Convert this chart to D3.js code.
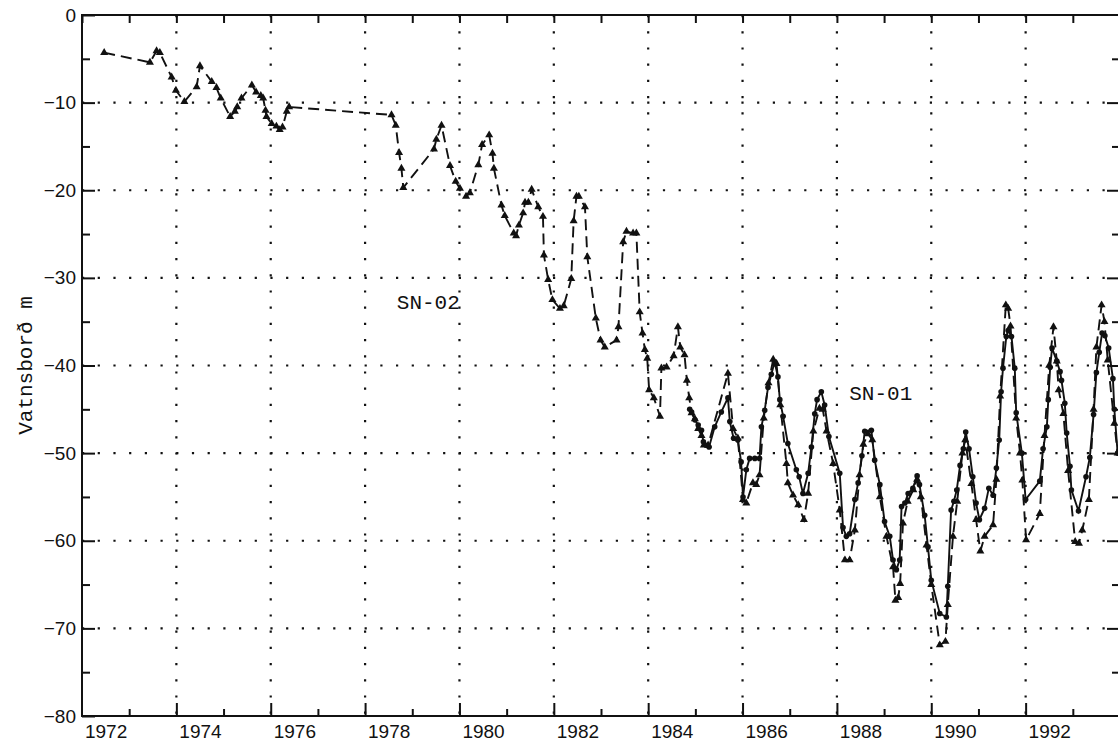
<!DOCTYPE html>
<html>
<head>
<meta charset="utf-8">
<script src="https://cdn.jsdelivr.net/npm/d3@7/dist/d3.min.js"></script>
<style>
  body { margin: 0; background: #fff; }
  svg { display: block; }
</style>
</head>
<body>
<div id="chart"></div>
<script>
// SN-02 (dashed line, triangles) - year and water level in m
var sn02Years = [1972.47,1973.44,1973.58,1973.65,1973.90,1973.99,1974.17,1974.43,1974.50,1974.75,
    1974.85,1974.94,1975.14,1975.24,1975.29,1975.38,1975.60,1975.69,1975.79,1975.84,
    1975.89,1975.91,1976.02,1976.12,1976.19,1976.25,1976.34,1976.39,1978.56,1978.65,
    1978.72,1978.77,1978.81,1979.46,1979.51,1979.62,1979.80,1979.92,1980.01,1980.14,
    1980.22,1980.40,1980.48,1980.63,1980.70,1980.73,1980.89,1980.96,1981.15,1981.20,
    1981.26,1981.35,1981.39,1981.46,1981.53,1981.67,1981.77,1981.79,1981.88,1981.97,
    1982.13,1982.21,1982.37,1982.42,1982.48,1982.53,1982.66,1982.71,1982.89,1982.99,
    1983.08,1983.33,1983.37,1983.47,1983.54,1983.68,1983.75,1983.82,1983.88,1983.93,
    1983.98,1984.02,1984.12,1984.25,1984.28,1984.39,1984.54,1984.63,1984.68,1984.77,
    1984.82,1984.87,1984.92,1984.99,1985.06,1985.13,1985.18,1985.27,1985.69,1985.80,
    1985.90,1986.01,1986.08,1986.22,1986.29,1986.36,1986.45,1986.55,1986.65,1986.72,
    1986.80,1986.93,1986.96,1987.07,1987.18,1987.30,1987.39,1987.50,1987.63,1987.70,
    1987.78,1987.92,1988.06,1988.17,1988.27,1988.38,1988.48,1988.56,1988.66,1988.75,
    1988.91,1989.05,1989.19,1989.24,1989.30,1989.34,1989.40,1989.50,1989.62,1989.70,
    1989.78,1989.90,1990.00,1990.18,1990.30,1990.35,1990.46,1990.55,1990.66,1990.72,
    1990.85,1990.95,1991.04,1991.13,1991.31,1991.38,1991.46,1991.58,1991.63,1991.68,
    1991.80,1991.88,1991.93,1992.01,1992.30,1992.40,1992.50,1992.59,1992.66,1992.70,
    1992.80,1992.90,1993.05,1993.13,1993.20,1993.34,1993.44,1993.50,1993.61,1993.67,
    1993.74,1993.88,1993.95];
var sn02Levels = [-4.3,-5.4,-4.1,-4.3,-7.1,-8.6,-9.9,-8.2,-5.8,-7.6,
    -8.3,-9.5,-11.6,-11.0,-10.5,-9.5,-8.0,-8.8,-9.2,-9.5,
    -10.9,-11.6,-12.4,-12.7,-13.1,-12.8,-11.0,-10.5,-11.4,-12.6,
    -15.7,-17.5,-19.7,-15.3,-14.2,-12.6,-17.2,-19.0,-19.8,-20.7,
    -20.3,-17.1,-14.8,-13.7,-15.8,-17.5,-21.7,-22.9,-24.9,-25.2,
    -24.0,-22.6,-21.4,-21.4,-19.9,-21.9,-23.0,-27.4,-30.2,-32.5,
    -33.5,-33.2,-30.1,-23.5,-20.7,-20.7,-21.9,-27.6,-34.6,-37.1,
    -37.9,-37.1,-35.6,-25.9,-24.7,-24.9,-24.9,-33.9,-36.3,-38.2,
    -39.2,-42.8,-43.7,-45.8,-40.3,-40.2,-38.9,-35.6,-37.9,-38.8,
    -41.7,-43.7,-45.4,-46.1,-47.2,-48.0,-49.1,-49.1,-40.9,-47.2,
    -48.3,-55.3,-55.7,-53.4,-53.6,-52.5,-46.0,-42.0,-39.3,-39.8,
    -44.5,-51.2,-53.4,-54.8,-55.9,-57.6,-54.6,-47.5,-44.9,-45.0,
    -47.5,-51.2,-56.5,-62.2,-62.2,-58.8,-52.5,-49.0,-47.8,-48.5,
    -55.0,-59.5,-63.0,-66.8,-66.5,-64.9,-58.0,-55.5,-54.2,-53.0,
    -55.0,-60.5,-65.0,-71.9,-71.5,-67.3,-59.5,-55.5,-50.0,-48.5,
    -53.5,-57.6,-61.2,-59.5,-58.2,-53.0,-43.5,-33.1,-33.5,-35.5,
    -46.0,-50.0,-53.1,-59.9,-56.9,-48.0,-40.0,-35.6,-39.5,-42.8,
    -45.5,-52.0,-60.1,-60.3,-58.8,-55.3,-45.0,-37.9,-33.1,-35.0,
    -39.4,-46.6,-50.0];

// SN-01 (solid line, dots)
var sn01Years = [1984.88,1984.92,1984.99,1985.06,1985.13,1985.17,1985.23,1985.29,1985.41,1985.55,
    1985.69,1985.73,1985.81,1985.90,1985.97,1986.01,1986.08,1986.15,1986.26,1986.36,
    1986.40,1986.47,1986.54,1986.61,1986.68,1986.75,1986.79,1986.86,1986.96,1987.14,
    1987.20,1987.28,1987.39,1987.46,1987.53,1987.58,1987.67,1987.74,1987.83,1988.06,
    1988.13,1988.20,1988.27,1988.38,1988.45,1988.53,1988.59,1988.73,1988.80,1988.91,
    1989.01,1989.12,1989.19,1989.26,1989.33,1989.37,1989.44,1989.51,1989.61,1989.70,
    1989.75,1989.86,1989.93,1990.00,1990.18,1990.32,1990.35,1990.42,1990.48,1990.54,
    1990.61,1990.68,1990.73,1990.80,1990.88,1990.95,1991.02,1991.13,1991.22,1991.31,
    1991.38,1991.44,1991.48,1991.52,1991.59,1991.63,1991.70,1991.77,1991.80,1991.92,
    1992.00,1992.30,1992.37,1992.45,1992.48,1992.52,1992.56,1992.66,1992.73,1992.76,
    1992.83,1992.87,1992.94,1992.97,1993.12,1993.28,1993.36,1993.44,1993.50,1993.56,
    1993.62,1993.68,1993.76,1993.85,1993.88,1993.95];
var sn01Levels = [-45.0,-45.3,-46.2,-46.8,-47.4,-48.7,-49.1,-49.3,-47.0,-45.3,
    -43.7,-46.4,-48.3,-48.5,-51.0,-55.0,-51.9,-50.6,-50.6,-50.6,
    -47.0,-45.1,-42.5,-41.0,-39.6,-41.3,-43.9,-45.8,-48.9,-51.9,
    -52.7,-54.6,-52.3,-49.3,-45.5,-43.9,-43.0,-44.5,-48.1,-52.3,
    -58.5,-59.5,-59.2,-55.3,-53.4,-50.3,-47.5,-47.4,-50.8,-53.6,
    -57.8,-59.5,-62.2,-63.3,-62.2,-56.1,-55.7,-54.6,-54.0,-52.6,
    -53.6,-57.1,-60.7,-64.5,-68.3,-68.7,-65.2,-56.5,-55.5,-54.2,
    -51.4,-49.5,-47.6,-49.5,-52.7,-55.7,-57.6,-56.3,-54.0,-54.8,
    -51.7,-48.5,-43.0,-40.3,-36.7,-36.0,-36.7,-40.3,-45.4,-50.0,
    -55.3,-53.2,-49.5,-47.0,-43.9,-40.2,-38.0,-39.5,-40.7,-41.7,
    -44.3,-47.7,-51.5,-54.2,-56.6,-52.7,-50.5,-45.6,-40.8,-38.5,
    -36.3,-36.6,-38.0,-41.5,-45.0,-50.0];

// axis ticks and labels
var yearLabels = [1972,1974,1976,1978,1980,1982,1984,1986,1988,1990,1992];
var levelTicks = [0,-10,-20,-30,-40,-50,-60,-70,-80];

function init(){
    var w = 1118, h = 745;
    var left = 82, right = 1120, top = 15, bottom = 716;

    var xScale = d3.scaleLinear().domain([1972, 1994]).range([left, right]);
    var yScale = d3.scaleLinear().domain([-80, 0]).range([bottom, top]);

    var svg = d3.select("#chart").append("svg")
        .attr("width", w).attr("height", h)
        .style("background", "#fff");

    var ink = "#111";
    var allYears = d3.range(1972, 1995);
    var gridYears = yearLabels.slice(1);
    var gridLevels = levelTicks.slice(1, -1);
    var minorLevels = d3.range(-75, 0, 10);

    // dotted grid
    svg.append("g").selectAll("line").data(gridLevels).enter().append("line")
        .attr("x1", left).attr("x2", right)
        .attr("y1", function(d){ return yScale(d); })
        .attr("y2", function(d){ return yScale(d); })
        .attr("stroke", ink).attr("stroke-width", 2.2)
        .attr("stroke-dasharray", "2.2,13.5");
    svg.append("g").selectAll("line").data(gridYears).enter().append("line")
        .attr("x1", function(d){ return xScale(d); })
        .attr("x2", function(d){ return xScale(d); })
        .attr("y1", top).attr("y2", bottom)
        .attr("stroke", ink).attr("stroke-width", 2.2)
        .attr("stroke-dasharray", "2.2,14");

    // frame
    svg.append("rect")
        .attr("x", left).attr("y", top)
        .attr("width", right - left).attr("height", bottom - top)
        .attr("fill", "none").attr("stroke", ink).attr("stroke-width", 2);

    // inward ticks
    function ticks(g){
        g.select(".domain").remove();
        g.selectAll("line").attr("stroke", ink).attr("stroke-width", 2);
    }
    svg.append("g").attr("transform", "translate(0," + bottom + ")")
        .call(d3.axisBottom(xScale).tickValues(allYears.filter(function(d){ return d % 2; }))
            .tickSize(-7).tickFormat("")).call(ticks);
    svg.append("g").attr("transform", "translate(0," + bottom + ")")
        .call(d3.axisBottom(xScale).tickValues(gridYears).tickSize(-13).tickFormat("")).call(ticks);
    svg.append("g").attr("transform", "translate(0," + top + ")")
        .call(d3.axisTop(xScale).tickValues(allYears).tickSize(-8).tickFormat("")).call(ticks);
    svg.append("g").attr("transform", "translate(" + left + ",0)")
        .call(d3.axisLeft(yScale).tickValues(minorLevels).tickSize(-8).tickFormat("")).call(ticks);
    svg.append("g").attr("transform", "translate(" + right + ",0)")
        .call(d3.axisRight(yScale).tickValues(minorLevels).tickSize(-8).tickFormat("")).call(ticks);
    svg.append("g").attr("transform", "translate(" + right + ",0)")
        .call(d3.axisRight(yScale).tickValues(gridLevels).tickSize(-13).tickFormat("")).call(ticks);

    // y labels with major ticks
    svg.append("g").attr("transform", "translate(" + left + ",0)")
        .call(d3.axisLeft(yScale).tickValues(levelTicks).tickSize(-13).tickPadding(6))
        .call(ticks)
        .selectAll("text")
        .attr("font-family", "'Liberation Sans', Arial, sans-serif")
        .attr("font-size", 19).attr("fill", ink);

    // x labels, centred on each year
    svg.append("g").attr("transform", "translate(0," + bottom + ")")
        .call(d3.axisBottom(xScale).tickValues(yearLabels.map(function(d){ return d + 0.5; }))
            .tickSize(0).tickPadding(9).tickFormat(function(d){ return Math.floor(d); }))
        .call(ticks)
        .selectAll("text")
        .attr("font-family", "'Liberation Sans', Arial, sans-serif")
        .attr("font-size", 19).attr("fill", ink);

    // y axis title
    svg.append("text")
        .attr("transform", "translate(32," + ((top + bottom) / 2) + ") rotate(-90)")
        .attr("text-anchor", "middle")
        .attr("font-family", "'Liberation Mono', 'DejaVu Sans Mono', monospace")
        .attr("font-size", 21).attr("fill", ink)
        .text("Vatnsborð m");

    var line = d3.line()
        .x(function(d){ return xScale(d[0]); })
        .y(function(d){ return yScale(d[1]); });

    var sn02 = d3.zip(sn02Years, sn02Levels);
    var sn01 = d3.zip(sn01Years, sn01Levels);

    // SN-02 dashed
    svg.append("path").datum(sn02)
        .attr("d", line).attr("fill", "none")
        .attr("stroke", ink).attr("stroke-width", 1.9)
        .attr("stroke-dasharray", "11,6");
    svg.append("g").selectAll("path").data(sn02).enter().append("path")
        .attr("d", d3.symbol().type(d3.symbolTriangle).size(28))
        .attr("transform", function(d){ return "translate(" + xScale(d[0]) + "," + yScale(d[1]) + ")"; })
        .attr("fill", ink);

    // SN-01 solid
    svg.append("path").datum(sn01)
        .attr("d", line).attr("fill", "none")
        .attr("stroke", ink).attr("stroke-width", 1.9);
    svg.append("g").selectAll("circle").data(sn01).enter().append("circle")
        .attr("cx", function(d){ return xScale(d[0]); })
        .attr("cy", function(d){ return yScale(d[1]); })
        .attr("r", 2.8)
        .attr("fill", ink);

    // series labels
    svg.append("text")
        .attr("x", xScale(1979.34)).attr("y", yScale(-33.5))
        .attr("text-anchor", "middle")
        .attr("font-family", "'Liberation Mono', 'DejaVu Sans Mono', monospace")
        .attr("font-size", 21).attr("fill", ink)
        .text("SN-02");
    svg.append("text")
        .attr("x", xScale(1988.93)).attr("y", yScale(-43.9))
        .attr("text-anchor", "middle")
        .attr("font-family", "'Liberation Mono', 'DejaVu Sans Mono', monospace")
        .attr("font-size", 21).attr("fill", ink)
        .text("SN-01");
}
window.onload = init;
</script>
</body>
</html>
